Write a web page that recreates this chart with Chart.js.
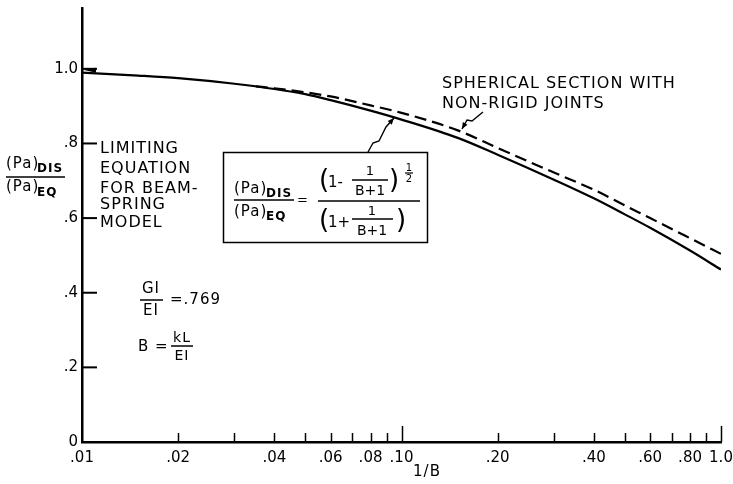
<!DOCTYPE html>
<html lang="en">
<head>
    <meta charset="UTF-8">
    <title>Limiting equation for beam-spring model</title>
    <script src="https://cdn.jsdelivr.net/npm/chart.js"></script>
    <style>
        body { margin: 0; background: #fff; }
        #wrap { width: 733px; height: 484px; }
    </style>
</head>
<body>
    <div id="wrap">
        <canvas id="limitChart" width="733" height="484"></canvas>
    </div>

    <script>
        // values (x = 1/B on a log axis)
        const xSolid = [0.01, 0.015, 0.02, 0.03, 0.04, 0.05, 0.06, 0.08, 0.10, 0.15, 0.20, 0.30, 0.40, 0.50, 0.60, 0.80, 1.0];
        const ySolid = [0.99, 0.982, 0.975, 0.96, 0.946, 0.932, 0.916, 0.888, 0.864, 0.815, 0.77, 0.703, 0.653, 0.61, 0.574, 0.513, 0.462];

        const xDashed = [0.035, 0.04, 0.06, 0.08, 0.10, 0.15, 0.20, 0.30, 0.40, 0.50, 0.60, 0.80, 1.0];
        const yDashed = [0.953, 0.948, 0.926, 0.902, 0.882, 0.835, 0.788, 0.722, 0.676, 0.634, 0.600, 0.546, 0.504];

        const xMajorTicks = [0.01, 0.02, 0.04, 0.06, 0.08, 0.10, 0.20, 0.40, 0.60, 0.80, 1.0];
        const xMajorLabels = ['.01', '.02', '.04', '.06', '.08', '.10', '.20', '.40', '.60', '.80', '1.0'];
        const xMinorTicks = [0.03, 0.05, 0.07, 0.09, 0.30, 0.50, 0.70, 0.90];
        const xLongTicks = [0.10, 1.0];

        const yTicks = [0, 0.2, 0.4, 0.6, 0.8, 1.0];
        const yLabels = ['0', '.2', '.4', '.6', '.8', '1.0'];

        const FONT = '"DejaVu Sans", sans-serif';

        function toPoints(xs, ys) {
            return xs.map((x, i) => ({ x: x, y: ys[i] }));
        }

        function txt(ctx, s, x, y, size, align, weight) {
            ctx.font = (weight || 'normal') + ' ' + size + 'px ' + FONT;
            ctx.textAlign = align || 'left';
            ctx.textBaseline = 'middle';
            ctx.fillText(s, x, y);
        }

        function hline(ctx, x1, x2, y, w) {
            ctx.lineWidth = w || 1.5;
            ctx.beginPath();
            ctx.moveTo(x1, y);
            ctx.lineTo(x2, y);
            ctx.stroke();
        }

        function leader(ctx, pts) {
            ctx.lineWidth = 1.4;
            ctx.beginPath();
            ctx.moveTo(pts[0][0], pts[0][1]);
            for (let i = 1; i < pts.length; i++) ctx.lineTo(pts[i][0], pts[i][1]);
            ctx.stroke();
            // small arrow head at the last point
            const [x1, y1] = pts[pts.length - 2];
            const [x2, y2] = pts[pts.length - 1];
            const a = Math.atan2(y2 - y1, x2 - x1);
            ctx.beginPath();
            ctx.moveTo(x2, y2);
            ctx.lineTo(x2 - 7 * Math.cos(a - 0.4), y2 - 7 * Math.sin(a - 0.4));
            ctx.lineTo(x2 - 7 * Math.cos(a + 0.4), y2 - 7 * Math.sin(a + 0.4));
            ctx.closePath();
            ctx.fill();
        }

        // inward tick marks + all the lettering of the drawing
        const decorations = {
            id: 'decorations',
            afterDraw(chart) {
                const ctx = chart.ctx;
                const xs = chart.scales.x;
                const ys = chart.scales.y;
                const area = chart.chartArea;
                ctx.save();
                ctx.strokeStyle = '#000';
                ctx.fillStyle = '#000';
                ctx.lineCap = 'butt';

                // y ticks pointing right
                yTicks.forEach(v => {
                    if (v === 0) return;
                    hline(ctx, area.left, area.left + 15, ys.getPixelForValue(v), 2);
                });
                // x ticks pointing up
                ctx.lineWidth = 1.5;
                xMajorTicks.concat(xMinorTicks).forEach(v => {
                    if (v === 0.01) return;
                    const px = Math.round(xs.getPixelForValue(v)) + 0.5;
                    const len = xLongTicks.includes(v) ? 16 : 9;
                    ctx.beginPath();
                    ctx.moveTo(px, area.bottom);
                    ctx.lineTo(px, area.bottom - len);
                    ctx.stroke();
                });

                // little arrow at 1.0 on the y axis
                const y1 = ys.getPixelForValue(1.0);
                ctx.beginPath();
                ctx.moveTo(area.left + 1, y1 + 1);
                ctx.lineTo(area.left + 14, y1 - 1);
                ctx.lineTo(area.left + 14, y1 + 4);
                ctx.closePath();
                ctx.fill();

                if ('letterSpacing' in ctx) ctx.letterSpacing = '1px';

                // x axis title
                txt(ctx, '1/B', 427, 472, 15, 'center');

                // y axis title
                txt(ctx, '(Pa)', 6, 164, 15);
                txt(ctx, 'DIS', 37, 169, 12, 'left', 'bold');
                hline(ctx, 6, 65, 177, 1.5);
                txt(ctx, '(Pa)', 6, 187, 15);
                txt(ctx, 'EQ', 37, 193, 12, 'left', 'bold');

                // limiting equation note
                const note = ['LIMITING', 'EQUATION', 'FOR BEAM-', 'SPRING', 'MODEL'];
                const noteY = [149, 169, 189, 205, 223];
                note.forEach((s, i) => txt(ctx, s, 100, noteY[i], 16));

                // GI/EI and B
                txt(ctx, 'GI', 151, 289, 15, 'center');
                hline(ctx, 140, 163, 300, 1.5);
                txt(ctx, 'EI', 151, 311, 15, 'center');
                txt(ctx, '=.769', 170, 300, 15);
                txt(ctx, 'B =', 138, 347, 15);
                txt(ctx, 'kL', 182, 338, 14, 'center');
                hline(ctx, 171, 193, 346, 1.5);
                txt(ctx, 'EI', 182, 356, 14, 'center');

                // spherical section label
                txt(ctx, 'SPHERICAL SECTION WITH', 442, 84, 16);
                txt(ctx, 'NON-RIGID JOINTS', 442, 104, 16);
                leader(ctx, [[483, 112], [472, 121], [467, 120], [462, 129]]);

                // formula box
                ctx.lineWidth = 1.5;
                ctx.strokeRect(223.5, 152.5, 204, 90);
                leader(ctx, [[368, 152], [373, 143], [379, 141], [386, 127], [394, 118]]);

                txt(ctx, '(Pa)', 234, 189, 15);
                txt(ctx, 'DIS', 266, 194, 12, 'left', 'bold');
                hline(ctx, 234, 294, 200, 1.5);
                txt(ctx, '(Pa)', 234, 212, 15);
                txt(ctx, 'EQ', 266, 217, 12, 'left', 'bold');
                txt(ctx, '=', 303, 201, 13, 'center');

                hline(ctx, 318, 420, 201, 1.5);
                // numerator
                if ('letterSpacing' in ctx) ctx.letterSpacing = '0px';
                txt(ctx, '(', 319, 181, 26);
                txt(ctx, '1-', 328, 183, 15);
                txt(ctx, '1', 370, 172, 13, 'center');
                hline(ctx, 352, 388, 180, 1.5);
                txt(ctx, 'B+1', 370, 191, 14, 'center');
                txt(ctx, ')', 389, 181, 26);
                txt(ctx, '1', 409, 168, 10, 'center');
                hline(ctx, 405, 413, 173, 1.2);
                txt(ctx, '2', 409, 179, 10, 'center');
                // denominator
                txt(ctx, '(', 319, 221, 26);
                txt(ctx, '1+', 328, 223, 15);
                txt(ctx, '1', 372, 212, 13, 'center');
                hline(ctx, 352, 393, 219, 1.5);
                txt(ctx, 'B+1', 372, 231, 14, 'center');
                txt(ctx, ')', 396, 221, 26);

                ctx.restore();
            }
        };

        function createChart() {
            const ctx = document.getElementById('limitChart').getContext('2d');
            return new Chart(ctx, {
                type: 'line',
                data: {
                    datasets: [
                        {
                            label: 'Limiting equation',
                            data: toPoints(xSolid, ySolid),
                            borderColor: '#000',
                            borderWidth: 2.2,
                            pointRadius: 0,
                            cubicInterpolationMode: 'monotone',
                            fill: false
                        },
                        {
                            label: 'Spherical section with non-rigid joints',
                            data: toPoints(xDashed, yDashed),
                            borderColor: '#000',
                            borderWidth: 2.2,
                            borderDash: [12, 6],
                            pointRadius: 0,
                            cubicInterpolationMode: 'monotone',
                            fill: false
                        }
                    ]
                },
                options: {
                    responsive: false,
                    animation: false,
                    layout: { padding: 0 },
                    plugins: {
                        legend: { display: false },
                        tooltip: { enabled: false }
                    },
                    scales: {
                        x: {
                            type: 'logarithmic',
                            min: 0.01,
                            max: 1.0,
                            afterBuildTicks: scale => {
                                scale.ticks = xMajorTicks.map(v => ({ value: v }));
                            },
                            afterFit: scale => {
                                scale.height = 42;
                                scale.paddingLeft = 0;
                                scale.paddingRight = 12;
                            },
                            grid: { display: false, drawTicks: false },
                            border: { display: true, color: '#000', width: 2.5 },
                            ticks: {
                                autoSkip: false,
                                maxRotation: 0,
                                padding: 7,
                                color: '#000',
                                font: { family: 'DejaVu Sans', size: 15 },
                                callback: function(value) {
                                    const i = xMajorTicks.indexOf(value);
                                    return i >= 0 ? xMajorLabels[i] : '';
                                }
                            }
                        },
                        y: {
                            min: 0,
                            max: 1.163,
                            afterBuildTicks: scale => {
                                scale.ticks = yTicks.map(v => ({ value: v }));
                            },
                            afterFit: scale => {
                                scale.width = 82;
                                scale.paddingTop = 8;
                                scale.paddingBottom = 0;
                            },
                            grid: { display: false, drawTicks: false },
                            border: { display: true, color: '#000', width: 2.5 },
                            ticks: {
                                padding: 4,
                                color: '#000',
                                font: { family: 'DejaVu Sans', size: 15 },
                                callback: function(value) {
                                    const i = yTicks.indexOf(value);
                                    return i >= 0 ? yLabels[i] : '';
                                }
                            }
                        }
                    }
                },
                plugins: [decorations]
            });
        }

        createChart();
    </script>
</body>
</html>
